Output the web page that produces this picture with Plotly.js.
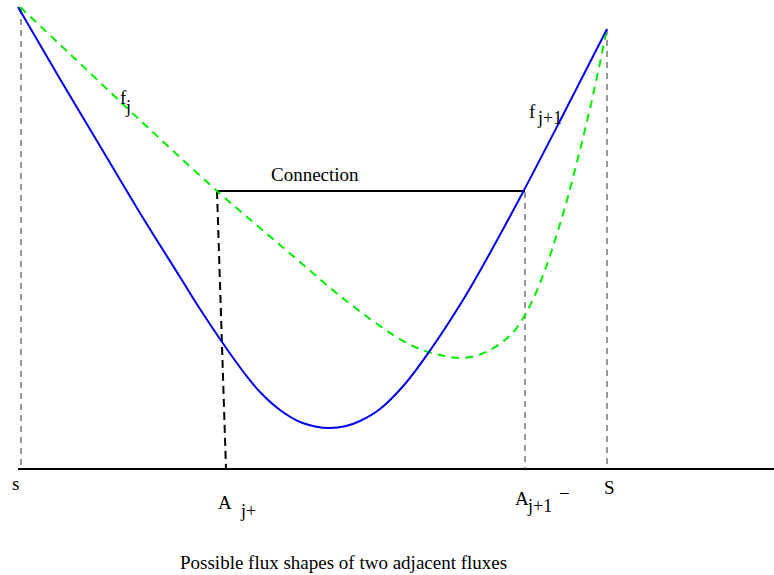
<!DOCTYPE html>
<html><head><meta charset="utf-8">
<script src="https://cdn.plot.ly/plotly-3.0.1.min.js"></script>
<style>html,body{margin:0;padding:0;background:#fff}</style>
</head><body><div id="chart" style="width:774px;height:575px"></div>
<script>
// Curve f_{j+1} (blue, solid)
const blueX = [18, 60, 100, 140, 180, 200, 222, 245, 260, 280, 300, 315, 330, 345, 360, 380, 405, 429, 463, 490, 522, 563, 607];
const blueY = [7, 79, 146, 213, 277, 309, 342, 374, 392, 410, 422, 426.4, 428, 426.3, 421, 409, 384, 352, 300, 253, 194, 115, 29];
// Curve f_j (green, dashed)
const greenX = [20, 70, 127, 170, 217, 260, 300, 340, 380, 405, 425, 445, 460, 475, 490, 505, 515, 525, 535, 545, 556, 567, 580, 593, 607];
const greenY = [7, 54, 108, 148, 191, 228, 262, 296, 326, 342, 351, 356, 358, 356, 350, 340, 330, 315, 295, 270, 237, 200, 150, 95, 29];
// Connection segment and guide lines
const connX = [217, 525];
const connY = [191, 191];
const baseX = [18, 774];
const baseY = [469, 469];
const guideS = {x: [21, 21], y: [8, 469]};
const guideA = {x: [217, 226], y: [191, 469]};
const guideA1 = {x: [525, 525], y: [192, 469]};
const guideBigS = {x: [607, 607], y: [29, 469]};

const traces = [
  {x: baseX, y: baseY, mode: 'lines', line: {color: '#000', width: 2}},
  {x: guideS.x, y: guideS.y, mode: 'lines', line: {color: '#333', width: 1, dash: '6px,5px'}},
  {x: guideA1.x, y: guideA1.y, mode: 'lines', line: {color: '#333', width: 1, dash: '6px,5px'}},
  {x: guideBigS.x, y: guideBigS.y, mode: 'lines', line: {color: '#333', width: 1, dash: '6px,5px'}},
  {x: guideA.x, y: guideA.y, mode: 'lines', line: {color: '#000', width: 2, dash: '8px,5px'}},
  {x: connX, y: connY, mode: 'lines', line: {color: '#000', width: 2}},
  {x: greenX, y: greenY, mode: 'lines', line: {color: '#00ee00', width: 2, dash: '8px,6px', shape: 'spline'}},
  {x: blueX, y: blueY, mode: 'lines', line: {color: '#0000ee', width: 2, shape: 'spline'}}
];

const font = {family: 'Liberation Serif, Times New Roman, serif', size: 19, color: '#000'};
function ann(x, y, text, size) {
  return {x: x, y: y, xref: 'x', yref: 'y', text: text, showarrow: false,
          font: Object.assign({}, font, size ? {size: size} : {}), xanchor: 'center', yanchor: 'middle'};
}
const annotations = [
  ann(123, 97, 'f'),
  ann(128, 107, 'j', 18),
  ann(532, 111, 'f'),
  ann(549, 118, 'j+1', 18),
  ann(315, 174, 'Connection'),
  ann(15, 483, 's'),
  ann(225, 502, 'A'),
  ann(248, 511, 'j+', 18),
  ann(522, 498, 'A'),
  ann(539, 506, 'j+1', 18),
  ann(564, 493, '−'),
  ann(609, 487, 'S'),
  ann(343, 562, 'Possible flux shapes of two adjacent fluxes')
];

Plotly.newPlot('chart', traces, {
  width: 774, height: 575,
  margin: {l: 0, r: 0, t: 0, b: 0},
  paper_bgcolor: '#fff', plot_bgcolor: '#fff',
  showlegend: false,
  xaxis: {range: [0, 774], visible: false},
  yaxis: {range: [575, 0], visible: false},
  annotations: annotations
}, {displayModeBar: false, staticPlot: true});
</script></body></html>
